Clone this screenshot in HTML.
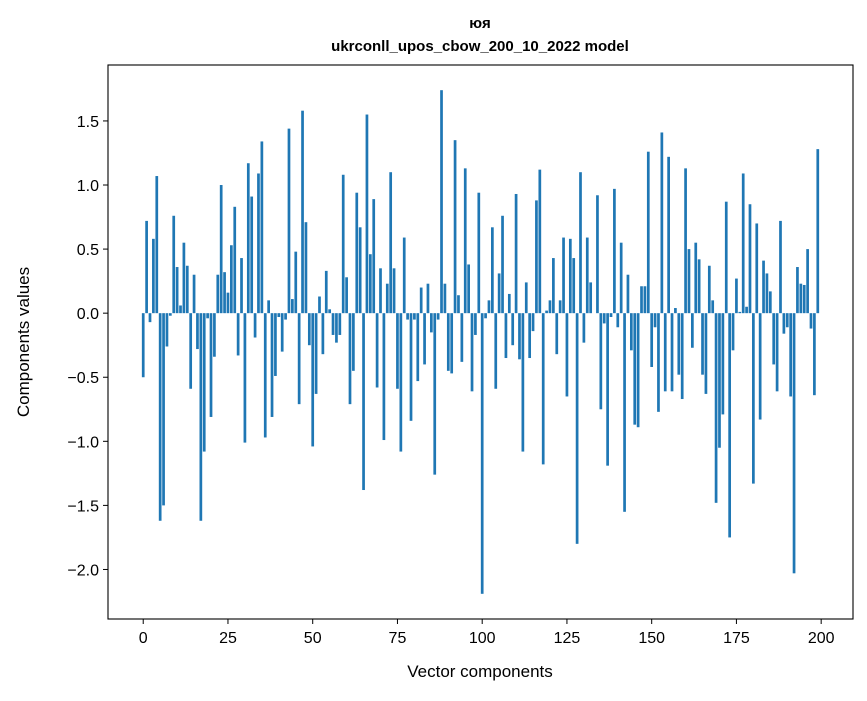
<!DOCTYPE html>
<html><head><meta charset="utf-8"><style>
body{margin:0;background:#fff;font-family:"Liberation Sans","DejaVu Sans",sans-serif;}
</style></head><body>
<svg id="chart" width="867" height="696" xmlns="http://www.w3.org/2000/svg" font-family="Liberation Sans, DejaVu Sans, sans-serif">
<text x="480" y="28" text-anchor="middle" font-size="15" font-weight="bold">юя</text>
<text x="480" y="51" text-anchor="middle" font-size="15" font-weight="bold">ukrconll_upos_cbow_200_10_2022 model</text>
<g id="bars"></g>
<g id="axes"></g>
<text x="480" y="677" text-anchor="middle" font-size="17">Vector components</text>
<text transform="translate(29,342) rotate(-90)" text-anchor="middle" font-size="17">Components values</text>
</svg>
<script>
const values = [-0.50,0.72,-0.07,0.58,1.07,-1.62,-1.50,-0.26,-0.02,0.76,
0.36,0.06,0.55,0.37,-0.59,0.30,-0.28,-1.62,-1.08,-0.04,
-0.81,-0.34,0.30,1.00,0.32,0.16,0.53,0.83,-0.33,0.43,
-1.01,1.17,0.91,-0.19,1.09,1.34,-0.97,0.10,-0.81,-0.49,
-0.03,-0.30,-0.05,1.44,0.11,0.48,-0.71,1.58,0.71,-0.25,
-1.04,-0.63,0.13,-0.32,0.33,0.03,-0.17,-0.23,-0.17,1.08,
0.28,-0.71,-0.45,0.94,0.67,-1.38,1.55,0.46,0.89,-0.58,
0.35,-0.99,0.23,1.10,0.35,-0.59,-1.08,0.59,-0.05,-0.84,
-0.05,-0.53,0.20,-0.40,0.23,-0.15,-1.26,-0.05,1.74,0.23,
-0.45,-0.47,1.35,0.14,-0.38,1.13,0.38,-0.61,-0.17,0.94,
-2.19,-0.04,0.10,0.67,-0.59,0.31,0.76,-0.35,0.15,-0.25,
0.93,-0.36,-1.08,0.24,-0.35,-0.14,0.88,1.12,-1.18,0.02,
0.10,0.43,-0.32,0.10,0.59,-0.65,0.58,0.43,-1.80,1.10,
-0.23,0.59,0.24,0.00,0.92,-0.75,-0.08,-1.19,-0.03,0.97,
-0.11,0.55,-1.55,0.30,-0.29,-0.87,-0.89,0.21,0.21,1.26,
-0.42,-0.11,-0.77,1.41,-0.61,1.22,-0.61,0.04,-0.48,-0.67,
1.13,0.50,-0.27,0.55,0.42,-0.48,-0.63,0.37,0.10,-1.48,
-1.05,-0.79,0.87,-1.75,-0.29,0.27,0.01,1.09,0.05,0.85,
-1.33,0.70,-0.83,0.41,0.31,0.17,-0.40,-0.61,0.72,-0.16,
-0.11,-0.65,-2.03,0.36,0.23,0.22,0.50,-0.12,-0.64,1.28];
const xTicks = [0,25,50,75,100,125,150,175,200];
const yTicks = [-2.0,-1.5,-1.0,-0.5,0.0,0.5,1.0,1.5];
const yTickLabels = ["\u22122.0","\u22121.5","\u22121.0","\u22120.5","0.0","0.5","1.0","1.5"];

const NS="http://www.w3.org/2000/svg";
const L=108,R=853,T=65,B=619;
const n=values.length;
const xmin0=-0.4,xmax0=(n-1)+0.4,xm=(xmax0-xmin0)*0.05;
const xmin=xmin0-xm,xmax=xmax0+xm;
let vmin=Math.min(0,...values),vmax=Math.max(0,...values);
const ym=(vmax-vmin)*0.05;
const ymin=vmin-ym,ymax=vmax+ym;
function xs(v){return L+(v-xmin)/(xmax-xmin)*(R-L);}
function ys(v){return B-(v-ymin)/(ymax-ymin)*(B-T);}
const bars=document.getElementById('bars');
values.forEach((v,i)=>{
  const r=document.createElementNS(NS,'rect');
  const x0=xs(i-0.4),x1=xs(i+0.4);
  const y0=ys(Math.max(v,0)),y1=ys(Math.min(v,0));
  r.setAttribute('x',x0);r.setAttribute('width',x1-x0);
  r.setAttribute('y',y0);r.setAttribute('height',Math.max(y1-y0,0));
  r.setAttribute('fill','#1f77b4');
  
  
  bars.appendChild(r);
});
const axes=document.getElementById('axes');
const frame=document.createElementNS(NS,'rect');
frame.setAttribute('x',L);frame.setAttribute('y',T);frame.setAttribute('width',R-L);frame.setAttribute('height',B-T);
frame.setAttribute('fill','none');frame.setAttribute('stroke','#000');frame.setAttribute('stroke-width','1.1');


axes.appendChild(frame);
xTicks.forEach(t=>{
  const x=xs(t);
  const l=document.createElementNS(NS,'line');
  l.setAttribute('x1',x);l.setAttribute('x2',x);l.setAttribute('y1',B);l.setAttribute('y2',B+5);l.setAttribute('stroke','#000');
  
  
  axes.appendChild(l);
  const tx=document.createElementNS(NS,'text');
  tx.setAttribute('x',x);tx.setAttribute('y',B+24);tx.setAttribute('text-anchor','middle');tx.setAttribute('font-size','16');
  tx.textContent=t;
  
  
  axes.appendChild(tx);
});
yTicks.forEach((t,i)=>{
  const y=ys(t);
  const l=document.createElementNS(NS,'line');
  l.setAttribute('x1',L-5);l.setAttribute('x2',L);l.setAttribute('y1',y);l.setAttribute('y2',y);l.setAttribute('stroke','#000');
  
  
  axes.appendChild(l);
  const tx=document.createElementNS(NS,'text');
  tx.setAttribute('x',L-9);tx.setAttribute('y',y+6);tx.setAttribute('text-anchor','end');tx.setAttribute('font-size','16');
  tx.textContent=yTickLabels[i];
  
  
  axes.appendChild(tx);
});
</script>
</body></html>
